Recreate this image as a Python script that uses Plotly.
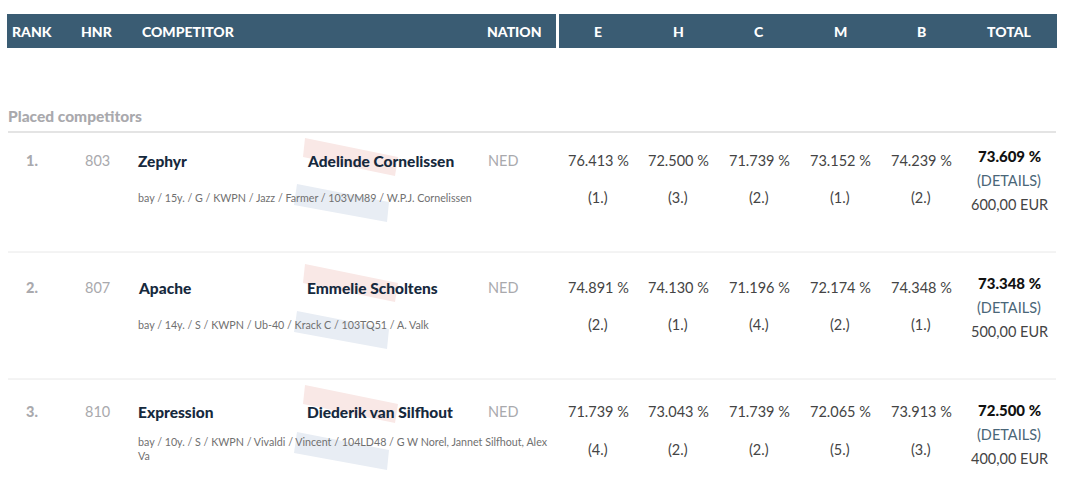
#Importing necessary libraries
import plotly.graph_objects as go

#Table contents
header_left = ["RANK", "HNR", "COMPETITOR", "NATION"]
header_right = ["E", "H", "C", "M", "B", "TOTAL"]
section_title = "Placed competitors"
ranks = ["1.", "2.", "3."]
hnr = ["803", "807", "810"]
horses = ["Zephyr", "Apache", "Expression"]
riders = ["Adelinde Cornelissen", "Emmelie Scholtens", "Diederik van Silfhout"]
nations = ["NED", "NED", "NED"]
horse_info = [
    "bay / 15y. / G / KWPN / Jazz / Farmer / 103VM89 / W.P.J. Cornelissen",
    "bay / 14y. / S / KWPN / Ub-40 / Krack C / 103TQ51 / A. Valk",
    "bay / 10y. / S / KWPN / Vivaldi / Vincent / 104LD48 / G W Norel, Jannet Silfhout, Alex<br>Va",
]
score_e = ["76.413 %", "74.891 %", "71.739 %"]
score_h = ["72.500 %", "74.130 %", "73.043 %"]
score_c = ["71.739 %", "71.196 %", "71.739 %"]
score_m = ["73.152 %", "72.174 %", "72.065 %"]
score_b = ["74.239 %", "74.348 %", "73.913 %"]
place_e = ["(1.)", "(2.)", "(4.)"]
place_h = ["(3.)", "(1.)", "(2.)"]
place_c = ["(2.)", "(4.)", "(2.)"]
place_m = ["(1.)", "(2.)", "(5.)"]
place_b = ["(2.)", "(1.)", "(3.)"]
totals = ["73.609 %", "73.348 %", "72.500 %"]
prizes = ["600,00 EUR", "500,00 EUR", "400,00 EUR"]
details = "(DETAILS)"

FONT = "Lato"
HEADER = "#3a5c73"
DARK = "#16293d"
GREY = "#a9a9ad"
TEXT = "#444444"

fig = go.Figure()


def txt(x, y, s, size=14.5, color=TEXT, bold=False, anchor="center"):
    fig.add_annotation(x=x, y=y, text=s, showarrow=False, xanchor=anchor, yanchor="middle",
                       align="left" if anchor == "left" else "center",
                       font=dict(family=FONT, size=size, color=color, weight=900 if bold else 400),
                       xref="x", yref="y", borderpad=0)


def box(x0, y0, x1, y1, color):
    fig.add_shape(type="rect", x0=x0, y0=y0, x1=x1, y1=y1, fillcolor=color, line_width=0, layer="below")


#Header bar
box(7, 14, 556, 48, HEADER)
box(559, 14, 1057, 48, HEADER)
for x, s in zip([11, 80, 141, 486], header_left):
    txt(x, 31, s, size=14, color="white", bold=True, anchor="left")
for x, s in zip([598, 678, 759, 840, 921, 1009], header_right):
    txt(x, 31, s, size=14, color="white", bold=True)

#Section title
txt(7, 116, section_title, size=15.5, color=GREY, bold=True, anchor="left")

#Row lines
fig.add_shape(type="line", x0=8, x1=1056, y0=132, y1=132, line=dict(color="#e4e4e4", width=2), layer="below")
fig.add_shape(type="line", x0=8, x1=1056, y0=252, y1=252, line=dict(color="#e8e8e8", width=1), layer="below")
fig.add_shape(type="line", x0=8, x1=1056, y0=379, y1=379, line=dict(color="#e8e8e8", width=1), layer="below")

#Row positions
main_y = [160.5, 287.5, 411.5]
sub_y = [197, 324, 449]
info_y = [197, 324, 448]
total_y = [156, 283, 410]
red_dy = [0, 126, 247]
blue_dy = [0, 127, 248]

score_cols = [score_e, score_h, score_c, score_m, score_b]
place_cols = [place_e, place_h, place_c, place_m, place_b]
col_x = [598, 678, 759, 840, 921]

for i in range(3):
    #Faded flag behind the rider name
    d = red_dy[i]
    fig.add_shape(type="path", path=f"M305,{138+d} L398,{157+d} L395,{176+d} L303,{157+d} Z",
                  fillcolor="#f9e8e6", line_width=0, layer="below")
    d = blue_dy[i]
    fig.add_shape(type="path", path=f"M297,{184+d} L389,{202+d} L387,{222+d} L294,{205+d} Z",
                  fillcolor="#e8edf4", line_width=0, layer="below")

    txt(32, main_y[i], ranks[i], color=GREY, bold=True)
    txt(97, main_y[i], hnr[i], color=GREY)
    txt(137, main_y[i], horses[i], size=15.5, color=DARK, bold=True, anchor="left")
    txt(306, main_y[i], riders[i], size=15.5, color=DARK, bold=True, anchor="left")
    txt(487, main_y[i], nations[i], color=GREY, anchor="left")
    txt(137, info_y[i], horse_info[i], size=10.7, color="#707070", anchor="left")

    for x, sc, pl in zip(col_x, score_cols, place_cols):
        txt(x, main_y[i], sc[i], color=TEXT)
        txt(x, sub_y[i], pl[i], color=TEXT)

    txt(1009, total_y[i], totals[i], size=15, color="#111111", bold=True)
    txt(1009, total_y[i] + 24, details, color="#4a6678")
    txt(1009, total_y[i] + 48, prizes[i], color=TEXT)

fig.update_xaxes(range=[0, 1065], visible=False, fixedrange=True)
fig.update_yaxes(range=[480, 0], visible=False, fixedrange=True)
fig.update_layout(width=1065, height=480, margin=dict(l=0, r=0, t=0, b=0),
                  paper_bgcolor="white", plot_bgcolor="white", showlegend=False)

#Page margin would push the chart 8px down and right
fig.write_html("out.html", config={"displayModeBar": False},
               post_script="document.body.style.margin='0';")
